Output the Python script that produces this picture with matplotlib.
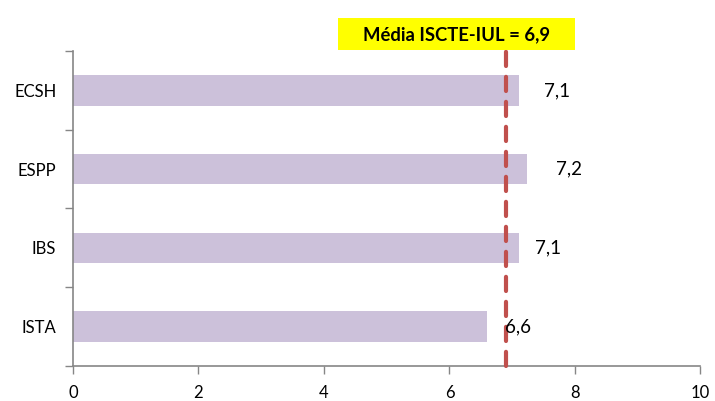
import matplotlib
matplotlib.use("Agg")
import matplotlib.pyplot as plt
from matplotlib.patches import Rectangle

categories = ["ECSH", "ESPP", "IBS", "ISTA"]
values = [7.1, 7.24, 7.1, 6.6]
mean_value = 6.9
mean_label = "Média ISCTE-IUL = 6,9"
x_ticks = [0, 2, 4, 6, 8, 10]

plt.rcParams['font.family'] = ['Lato', 'DejaVu Sans']

fig = plt.figure(figsize=(7.15, 4.01), dpi=100)
ax = fig.add_axes([0.1021, 0.0873, 0.9797 - 0.1021, 0.8728 - 0.0873])

ypos = list(range(len(categories)))
ax.barh(ypos, values, height=0.39, color="#CCC1DA", zorder=2)
ax.set_ylim(len(categories) - 0.5, -0.5)
ax.set_xlim(0, 10)
ax.set_xticks(x_ticks)
ax.set_xticklabels([str(t) for t in x_ticks], fontsize=12)
ax.set_yticks(ypos)
ax.set_yticklabels(categories, fontsize=12)
ax.tick_params(axis='y', length=0, pad=12)
ax.set_yticks([i - 0.5 for i in range(len(categories) + 1)], minor=True)
ax.tick_params(axis='y', which='minor', length=6, color="#868686", width=1)
ax.tick_params(axis='x', length=6, color="#868686", width=1, pad=8)
for s in ["top", "right"]:
    ax.spines[s].set_visible(False)
for s in ["left", "bottom"]:
    ax.spines[s].set_color("#868686")
    ax.spines[s].set_linewidth(1.2)

offsets = [28, 30, 21, 22]
for y, v, off in zip(ypos, values, offsets):
    ax.annotate(f"{v:.1f}".replace(".", ","), xy=(v, y), xytext=(off, 0),
                textcoords="offset points", ha="center", va="center",
                fontsize=13.5, color="black", zorder=4)

ax.axvline(mean_value, ymin=0, ymax=1.013, color="#C0504D", lw=3,
           dashes=(3.4, 2.6), dash_capstyle='round', clip_on=False, zorder=3)

fig.patches.append(Rectangle((0.4727, 0.875), 0.3315, 0.0798, transform=fig.transFigure,
                             facecolor="#FFFF00", edgecolor="none", zorder=5))
fig.text(0.638, 0.913, mean_label, ha="center", va="center", fontsize=13.3,
         fontweight="bold", color="black", zorder=6)

fig.savefig("out.png", dpi=100)
